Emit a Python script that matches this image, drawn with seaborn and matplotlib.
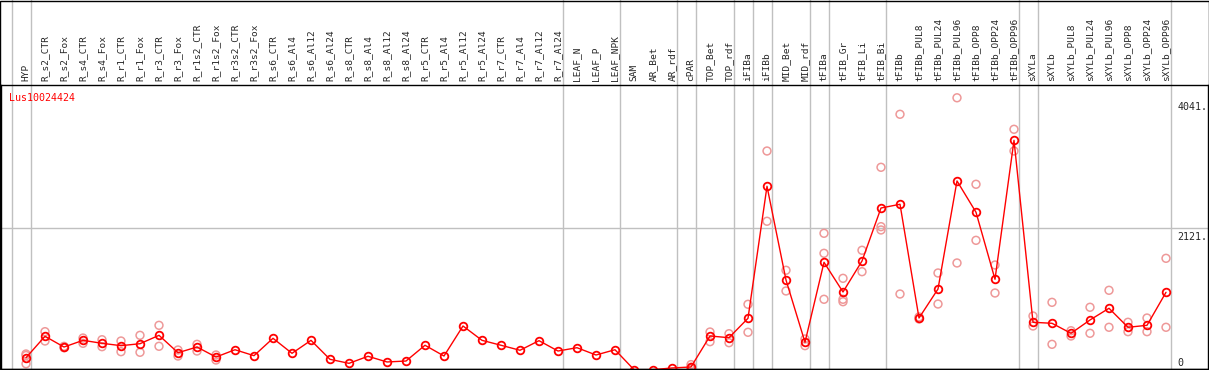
import numpy as np
import pandas as pd
import seaborn as sns
import matplotlib
import matplotlib.pyplot as plt

sns.set_style('white')
plt.rcParams['font.family'] = ['DejaVu Sans Mono', 'DejaVu Sans']

gene = 'Lus10024424'

samples = ['HYP',
           'R_s2_CTR', 'R_s2_Fox', 'R_s4_CTR', 'R_s4_Fox', 'R_r1_CTR', 'R_r1_Fox',
           'R_r3_CTR', 'R_r3_Fox', 'R_r1s2_CTR', 'R_r1s2_Fox', 'R_r3s2_CTR', 'R_r3s2_Fox',
           'R_s6_CTR', 'R_s6_Al4', 'R_s6_Al12', 'R_s6_Al24', 'R_s8_CTR', 'R_s8_Al4',
           'R_s8_Al12', 'R_s8_Al24', 'R_r5_CTR', 'R_r5_Al4', 'R_r5_Al12', 'R_r5_Al24',
           'R_r7_CTR', 'R_r7_Al4', 'R_r7_Al12', 'R_r7_Al24',
           'LEAF_N', 'LEAF_P', 'LEAF_NPK',
           'SAM', 'AR_Bet', 'AR_rdf',
           'cPAR',
           'TOP_Bet', 'TOP_rdf',
           'iFIBa',
           'iFIBb',
           'MID_Bet', 'MID_rdf',
           'tFIBa',
           'tFIB_Gr', 'tFIB_Li', 'tFIB_Bi',
           'tFIBb', 'tFIBb_PUL8', 'tFIBb_PUL24', 'tFIBb_PUL96', 'tFIBb_OPP8', 'tFIBb_OPP24', 'tFIBb_OPP96',
           'sXYLa',
           'sXYLb', 'sXYLb_PUL8', 'sXYLb_PUL24', 'sXYLb_PUL96', 'sXYLb_OPP8', 'sXYLb_OPP24', 'sXYLb_OPP96']

# mean expression per sample
means = [197,
         514, 355, 454, 410, 375, 404, 528, 271, 355, 207, 315, 227,
         484, 262, 454, 173, 114, 218, 134, 148, 381, 222, 666, 454,
         381, 307, 449, 296,
         345, 237, 315,
         20, 20, 45,
         60,
         518, 493,
         780,
         2732,
         1346, 425,
         1608,
         1169, 1627, 2411,
         2466, 784, 1213, 2811, 2348, 1357, 3412,
         721,
         706, 558, 755, 928, 647, 676, 1164]

# individual replicates (empty where only the mean is shown)
replicates = [[252, 230, 108],
              [582, 444], [345, 365], [488, 410], [463, 360], [444, 286], [528, 277],
              [676, 366], [311, 222], [395, 296], [237, 163], [], [],
              [], [], [], [], [], [], [], [], [], [], [], [],
              [], [], [], [],
              [], [], [],
              [], [], [],
              [95, 30, 55],
              [577, 434], [552, 419],
              [987, 573],
              [3254, 2215],
              [1490, 1184], [474, 375],
              [2037, 1741, 1061],
              [1371, 1061, 1025], [1786, 1469], [3013, 2135, 2086],
              [3797, 1139], [800, 770], [1450, 991], [4041, 1598], [2762, 1933], [1568, 1154], [3575, 3254],
              [814, 666],
              [1016, 395], [596, 518], [943, 558], [1194, 647], [721, 582], [784, 582], [1667, 647]]

# last sample index of each tissue group (-1 = left edge)
group_ends = [-1, 0, 28, 31, 34, 35, 37, 38, 39, 41, 42, 45, 52, 53, 60]

y_ticks = [4041, 2121]

pos = np.arange(len(samples))
rep_df = pd.DataFrame([(i, v) for i, reps in enumerate(replicates) for v in reps],
                      columns=['pos', 'value'])

fig = plt.figure(figsize=(12.09, 3.70), dpi=100)
ax = fig.add_axes([1 / 1209, 1 / 370, 1207 / 1209, 284 / 370])

grey = '#c0c0c0'
for g in group_ends:
    ax.axvline(g + 0.24, ymin=0, ymax=1.31, color=grey, lw=1, clip_on=False, zorder=0)
ax.axhline(2121, color=grey, lw=1, zorder=0)

sns.scatterplot(data=rep_df, x='pos', y='value', ax=ax, marker='o', s=32,
                facecolor='none', edgecolor='#ee9999', linewidth=1.1, zorder=2)
sns.lineplot(x=pos, y=means, ax=ax, color='red', lw=1, marker='o', markersize=5.5,
             markerfacecolor='none', markeredgecolor='red', markeredgewidth=1.3, zorder=3)

ax.set_xlim((1 - 26) / 19, (1208 - 26) / 19)
ax.set_ylim(30, 4230)

ax.xaxis.tick_top()
ax.set_xticks(pos)
ax.set_xticklabels(samples, rotation=90, fontsize=6.8)
ax.tick_params(axis='x', length=0, pad=3)
ax.set_yticks([])
ax.set_xlabel('')
ax.set_ylabel('')

for sp in ax.spines.values():
    sp.set_color('black')
    sp.set_linewidth(1)

for t in y_ticks:
    ax.annotate(f'{t}.', xy=(0.9745, t), xycoords=ax.get_yaxis_transform(), xytext=(0, -3),
                textcoords='offset points', va='top', ha='left', fontsize=7.2)
ax.annotate('0', xy=(0.9745, 0), xycoords=ax.get_yaxis_transform(), xytext=(0, 2),
            textcoords='offset points', va='bottom', ha='left', fontsize=7.2)

ax.text(0.0066, 0.972, gene, transform=ax.transAxes, color='red', va='top', ha='left',
        fontsize=7.2)

fig.add_artist(plt.Rectangle((0.0004, 0.0014), 0.9992, 0.9972, transform=fig.transFigure,
                             fill=False, ec='black', lw=1))

fig.savefig('out.png', dpi=100)
